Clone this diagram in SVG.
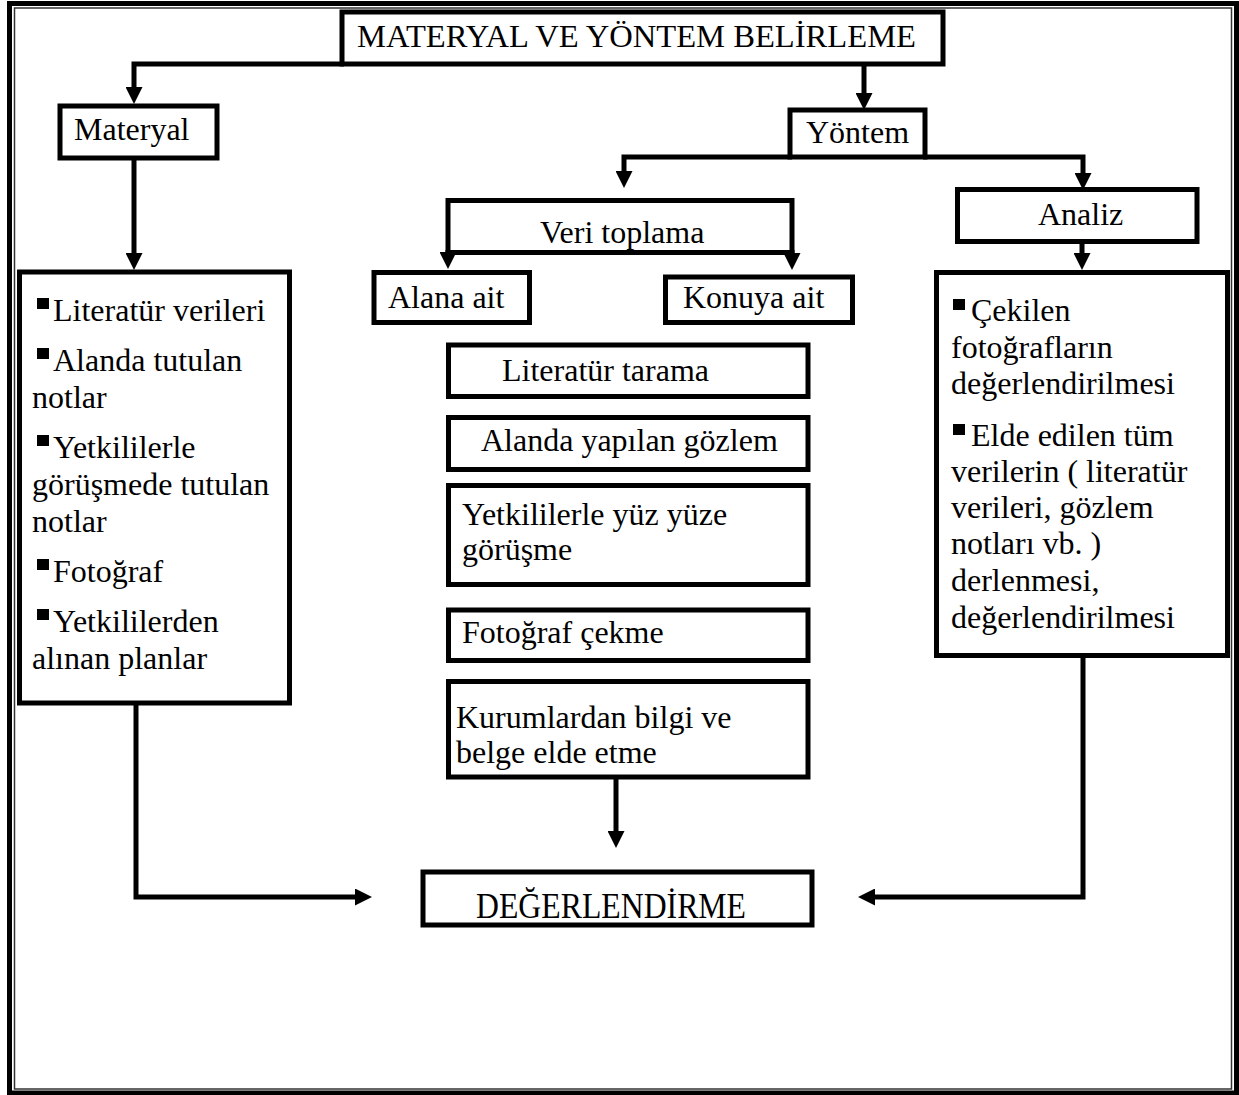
<svg xmlns="http://www.w3.org/2000/svg" width="1239" height="1095" viewBox="0 0 1239 1095">
<style>
.box{fill:#fff;stroke:#000;stroke-width:5}
.t{font-family:"Liberation Serif","Times New Roman",serif;font-size:32px;fill:#000}
.c{fill:none;stroke:#000;stroke-width:5}
.b{fill:#000}
</style>
<defs>
<marker id="ah" markerUnits="userSpaceOnUse" markerWidth="17" markerHeight="17" refX="7" refY="8.5" orient="auto" viewBox="0 0 17 17">
<path d="M0,0 L17,8.5 L0,17 z" fill="#000"/>
</marker>
</defs>
<rect x="0" y="0" width="1239" height="1095" fill="#fff"/>
<g id="frame">
<rect x="9.5" y="3.5" width="1227" height="1089.5" fill="none" stroke="#000" stroke-width="5"/>
<rect x="14.5" y="8" width="1217" height="1081" fill="none" stroke="#333" stroke-width="1.5"/>
</g>
<g id="connectors">
<path class="c" d="M344,64 H134 V94" marker-end="url(#ah)"/>
<path class="c" d="M864,64 V100" marker-end="url(#ah)"/>
<path class="c" d="M134,158 V260" marker-end="url(#ah)"/>
<path class="c" d="M792,157 H624 V178" marker-end="url(#ah)"/>
<path class="c" d="M923,157 H1083 V180" marker-end="url(#ah)"/>
<path class="c" d="M448,250 V259" marker-end="url(#ah)"/>
<path class="c" d="M792,250 V260" marker-end="url(#ah)"/>
<path class="c" d="M1082,241 V260" marker-end="url(#ah)"/>
<path class="c" d="M616,777 V838" marker-end="url(#ah)"/>
<path class="c" d="M136,703 V897 H362" marker-end="url(#ah)"/>
<path class="c" d="M1083,656 V897 H868" marker-end="url(#ah)"/>
</g>
<g id="n-title">
<rect class="box" x="342" y="12" width="601" height="52"/>
<text class="t" x="357" y="47" textLength="559" lengthAdjust="spacingAndGlyphs">MATERYAL VE YÖNTEM BELİRLEME</text>
</g>
<g id="n-materyal">
<rect class="box" x="60" y="106" width="157" height="52"/>
<text class="t" x="74" y="140">Materyal</text>
</g>
<g id="n-yontem">
<rect class="box" x="790" y="110" width="135" height="47"/>
<text class="t" x="806" y="143">Yöntem</text>
</g>
<g id="n-materyal-list">
<rect class="box" x="19.5" y="272" width="270" height="431"/>
<rect class="b" x="37" y="298" width="12" height="11"/>
<text class="t" x="53" y="321">Literatür verileri</text>
<rect class="b" x="37" y="348" width="12" height="11"/>
<text class="t" x="53" y="371">Alanda tutulan</text>
<text class="t" x="32" y="408">notlar</text>
<rect class="b" x="37" y="435" width="12" height="11"/>
<text class="t" x="53" y="458">Yetkililerle</text>
<text class="t" x="32" y="495">görüşmede tutulan</text>
<text class="t" x="32" y="532">notlar</text>
<rect class="b" x="37" y="559" width="12" height="11"/>
<text class="t" x="53" y="582">Fotoğraf</text>
<rect class="b" x="37" y="609" width="12" height="11"/>
<text class="t" x="53" y="632">Yetkililerden</text>
<text class="t" x="32" y="669">alınan planlar</text>
</g>
<g id="n-veri">
<rect class="box" x="448" y="200.5" width="344" height="52"/>
<text class="t" x="540" y="243">Veri toplama</text>
</g>
<g id="n-analiz">
<rect class="box" x="957.5" y="189.5" width="239.5" height="52"/>
<text class="t" x="1038" y="225">Analiz</text>
</g>
<g id="n-alana">
<rect class="box" x="374" y="272.5" width="155.5" height="50"/>
<text class="t" x="388" y="308">Alana ait</text>
</g>
<g id="n-konuya">
<rect class="box" x="665.5" y="277" width="187" height="45.5"/>
<text class="t" x="683" y="308">Konuya ait</text>
</g>
<g id="n-analiz-list">
<rect class="box" x="936.5" y="272.5" width="291" height="383"/>
<rect class="b" x="953" y="299" width="12" height="11"/>
<text class="t" x="971" y="321">Çekilen</text>
<text class="t" x="951" y="358">fotoğrafların</text>
<text class="t" x="951" y="394">değerlendirilmesi</text>
<rect class="b" x="953" y="424" width="12" height="11"/>
<text class="t" x="971" y="446">Elde edilen tüm</text>
<text class="t" x="951" y="482">verilerin ( literatür</text>
<text class="t" x="951" y="518">verileri, gözlem</text>
<text class="t" x="951" y="554">notları vb. )</text>
<text class="t" x="951" y="591">derlenmesi,</text>
<text class="t" x="951" y="628">değerlendirilmesi</text>
</g>
<g id="n-literatur">
<rect class="box" x="448.5" y="345" width="359.5" height="51.5"/>
<text class="t" x="502" y="381">Literatür tarama</text>
</g>
<g id="n-gozlem">
<rect class="box" x="448.5" y="417.5" width="359.5" height="52"/>
<text class="t" x="481" y="451">Alanda yapılan gözlem</text>
</g>
<g id="n-gorusme">
<rect class="box" x="448.5" y="485.5" width="359.5" height="99"/>
<text class="t" x="462" y="525">Yetkililerle yüz yüze</text>
<text class="t" x="462" y="560">görüşme</text>
</g>
<g id="n-fotograf">
<rect class="box" x="448.5" y="610" width="359.5" height="50.5"/>
<text class="t" x="462" y="643">Fotoğraf çekme</text>
</g>
<g id="n-kurum">
<rect class="box" x="448.5" y="681.5" width="359.5" height="95.5"/>
<text class="t" x="456" y="728">Kurumlardan bilgi ve</text>
<text class="t" x="456" y="763">belge elde etme</text>
</g>
<g id="n-degerlendirme">
<rect class="box" x="423" y="872" width="389" height="53"/>
<text class="t" x="476" y="918" font-size="35" textLength="270" lengthAdjust="spacingAndGlyphs" style="font-size:35px">DEĞERLENDİRME</text>
</g>
</svg>
